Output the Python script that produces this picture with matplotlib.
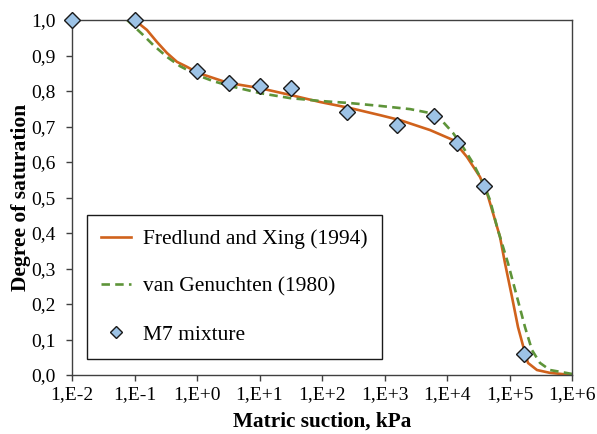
#!/usr/bin/env python3
import numpy as np
import matplotlib

matplotlib.use("Agg")
import matplotlib.pyplot as plt
from matplotlib.ticker import FixedLocator, FixedFormatter

# ------------------------------------------------------------------
# Data
# ------------------------------------------------------------------
# measured points, M7 mixture
suction_m7 = [0.01, 0.1, 1.0, 3.2, 10.0, 32.0, 250.0, 1580.0, 6200.0, 14500.0, 39000.0, 170000.0]
sat_m7 = [1.0, 1.0, 0.855, 0.822, 0.814, 0.808, 0.741, 0.704, 0.729, 0.654, 0.532, 0.059]

# Fredlund and Xing (1994) fit
suction_fx = [0.1, 0.158, 0.229, 0.331, 0.479, 0.692, 1.04, 1.8, 3.13, 10.2, 30.8, 93.0,
              281.0, 847.0, 1770.0, 5350.0, 12470.0, 20900.0, 33700.0, 43650.0, 54450.0,
              70470.0, 84720.0, 109600.0, 136800.0, 177000.0, 197700.0, 275400.0,
              444600.0, 1000000.0]
sat_fx = [1.0, 0.972, 0.938, 0.907, 0.882, 0.868, 0.851, 0.837, 0.823, 0.808, 0.789, 0.769,
          0.752, 0.732, 0.718, 0.690, 0.662, 0.614, 0.558, 0.513, 0.456,
          0.389, 0.315, 0.220, 0.135, 0.062, 0.034, 0.014,
          0.006, 0.0]

# van Genuchten (1980) fit
suction_vg = [0.076, 0.137, 0.198, 0.331, 0.535, 1.0, 1.8, 3.37, 10.2, 30.8, 93.0, 281.0,
              847.0, 2560.0, 5350.0, 8630.0, 12470.0, 18030.0, 26060.0, 37670.0, 48750.0,
              63100.0, 94600.0, 131800.0, 177000.0, 229100.0, 307600.0, 444600.0, 1000000.0]
sat_vg = [1.0, 0.958, 0.930, 0.896, 0.870, 0.845, 0.828, 0.814, 0.794, 0.780, 0.772, 0.766,
          0.758, 0.749, 0.738, 0.713, 0.682, 0.642, 0.597, 0.541, 0.493,
          0.417, 0.315, 0.220, 0.135, 0.070, 0.034, 0.014, 0.003]

xticks = [1e-2, 1e-1, 1e0, 1e1, 1e2, 1e3, 1e4, 1e5, 1e6]
xtick_labels = ["1,E-2", "1,E-1", "1,E+0", "1,E+1", "1,E+2", "1,E+3", "1,E+4", "1,E+5", "1,E+6"]
yticks = [0.0, 0.1, 0.2, 0.3, 0.4, 0.5, 0.6, 0.7, 0.8, 0.9, 1.0]
ytick_labels = ["0,0", "0,1", "0,2", "0,3", "0,4", "0,5", "0,6", "0,7", "0,8", "0,9", "1,0"]

# ------------------------------------------------------------------
# Style
# ------------------------------------------------------------------
plt.rcParams["font.family"] = ["Liberation Serif", "DejaVu Serif"]
c_fx = "#D0621C"
c_vg = "#5E9439"
c_pt = "#9DC3E6"
c_ax = "#404040"

fig = plt.figure(figsize=(5.97, 4.34), dpi=100)
ax = fig.add_axes([72 / 597, 59 / 434, 500 / 597, 355 / 434])

ax.plot(suction_fx, sat_fx, ls="-", lw=1.9, color=c_fx, label="Fredlund and Xing (1994)")
ax.plot(suction_vg, sat_vg, ls=(0, (3.2, 2.0)), lw=1.9, color=c_vg, label="van Genuchten (1980)")
ax.plot(suction_m7, sat_m7, ls="none", marker="D", ms=8.5, mfc=c_pt, mec="#1a1a1a",
        mew=1.0, clip_on=False, zorder=5, label="M7 mixture")

ax.set_xscale("log")
ax.set_xlim(1e-2, 1e6)
ax.set_ylim(0.0, 1.0)
ax.xaxis.set_major_locator(FixedLocator(xticks))
ax.xaxis.set_major_formatter(FixedFormatter(xtick_labels))
ax.xaxis.set_minor_locator(FixedLocator([]))
ax.yaxis.set_major_locator(FixedLocator(yticks))
ax.yaxis.set_major_formatter(FixedFormatter(ytick_labels))

for s in ax.spines.values():
    s.set_color(c_ax)
    s.set_linewidth(1.0)
ax.tick_params(axis="both", direction="out", length=4.3, width=1.0, color=c_ax,
               labelsize=14, colors="black")
ax.tick_params(axis="x", pad=3.5)
ax.tick_params(axis="y", pad=7.5)

ax.set_xlabel("Matric suction, kPa", fontsize=15.3, fontweight="bold", labelpad=6)
ax.set_ylabel("Degree of saturation", fontsize=15.5, fontweight="bold", labelpad=0)

leg = ax.legend(loc="lower left", bbox_to_anchor=(0.03, 0.045), fontsize=15.5,
                frameon=True, fancybox=False, edgecolor="#1a1a1a", framealpha=1,
                handlelength=1.4, handletextpad=0.55, labelspacing=1.29,
                borderpad=0.66, borderaxespad=0.0, markerscale=0.75)
leg.get_frame().set_linewidth(1.0)

fig.savefig("out.png", dpi=100)
